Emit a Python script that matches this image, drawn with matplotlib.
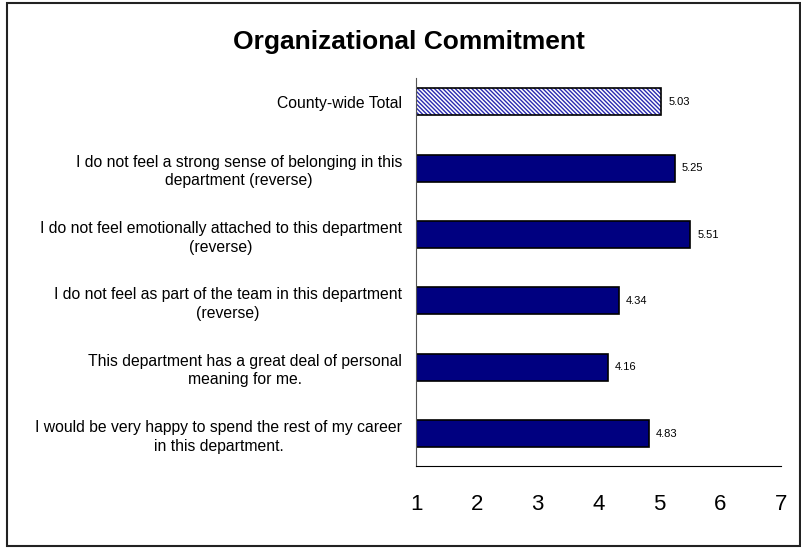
import matplotlib.pyplot as plt
from matplotlib.patches import Rectangle

plt.rcParams['font.family'] = ['Liberation Sans', 'DejaVu Sans']
plt.rcParams['hatch.linewidth'] = 1.0

categories = [
    'County-wide Total',
    'I do not feel a strong sense of belonging in this\ndepartment (reverse)',
    'I do not feel emotionally attached to this department\n(reverse)',
    'I do not feel as part of the team in this department\n(reverse)',
    'This department has a great deal of personal\nmeaning for me.',
    'I would be very happy to spend the rest of my career\nin this department.',
]
scores = [5.03, 5.25, 5.51, 4.34, 4.16, 4.83]
x_ticks = [1, 2, 3, 4, 5, 6, 7]

fig = plt.figure(figsize=(8.01, 5.48), dpi=100)
ax = fig.add_axes([416 / 801, 82 / 548, 365 / 801, 388 / 548])

ypos = list(range(len(categories)))
widths = [s - 1 for s in scores]

# county-wide total: blue hatch on white, then a black outline on top
ax.barh(ypos[:1], widths[:1], left=1, height=0.41, color='white',
        edgecolor='#2a2ab0', linewidth=0, hatch='\\' * 8)
ax.barh(ypos[:1], widths[:1], left=1, height=0.41, fill=False,
        edgecolor='black', linewidth=1.2)
ax.barh(ypos[1:], widths[1:], left=1, height=0.41,
        color='#000080', edgecolor='black', linewidth=1.2)

for y, s in zip(ypos, scores):
    ax.annotate(f'{s:.2f}', (s, y), xytext=(5, 0), textcoords='offset points',
                va='center', ha='left', fontsize=8)

ax.set_xlim(1, 7)
ax.set_ylim(5.49, -0.36)
ax.set_xticks(x_ticks)
ax.set_xticklabels([str(t) for t in x_ticks])
ax.set_yticks(ypos)
ax.set_yticklabels(categories, multialignment='center', fontsize=11.3, linespacing=1.3)
ax.tick_params(axis='x', length=0, pad=20, labelsize=16)
ax.tick_params(axis='y', length=0, pad=10)

for side in ['top', 'right']:
    ax.spines[side].set_visible(False)
ax.spines['left'].set_color('#555555')
ax.spines['bottom'].set_color('black')

fig.text(0.51, 1 - 42 / 548, 'Organizational Commitment', ha='center', va='center',
         fontsize=19, fontweight='bold')

# outer chart border
fig.patches.append(Rectangle((7 / 801, 2 / 548), 793 / 801, 543 / 548,
                             transform=fig.transFigure, fill=False,
                             edgecolor='#222222', linewidth=1.5))

fig.savefig('out.png', dpi=100)
